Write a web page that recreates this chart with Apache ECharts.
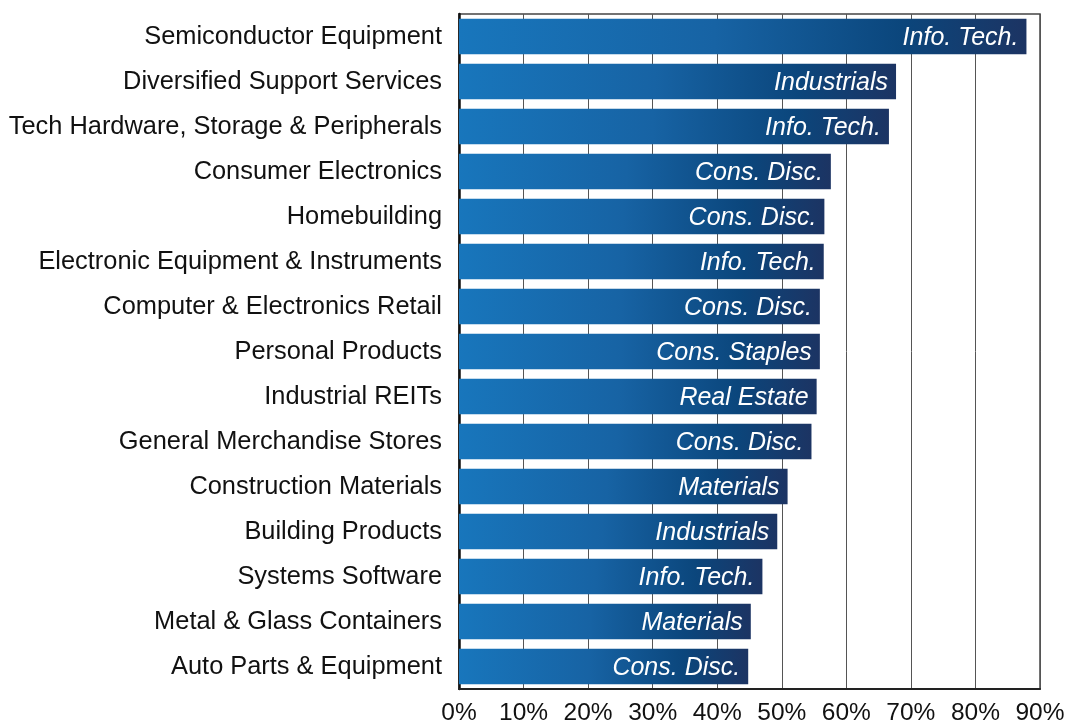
<!DOCTYPE html>
<html>
<head>
<meta charset="utf-8">
<script src="https://cdn.jsdelivr.net/npm/echarts@6/dist/echarts.min.js"></script>
<style>
	html, body { margin: 0; padding: 0; background: #fff; }
	#chart { width: 1068px; height: 721px; }
</style>
</head>
<body>
<div id="chart"></div>
<script type="text/javascript">
// sub-industries, top to bottom
var industries = [
	'Semiconductor Equipment',
	'Diversified Support Services',
	'Tech Hardware, Storage & Peripherals',
	'Consumer Electronics',
	'Homebuilding',
	'Electronic Equipment & Instruments',
	'Computer & Electronics Retail',
	'Personal Products',
	'Industrial REITs',
	'General Merchandise Stores',
	'Construction Materials',
	'Building Products',
	'Systems Software',
	'Metal & Glass Containers',
	'Auto Parts & Equipment'
];
// sector shown inside each bar
var sectors = [
	'Info. Tech.', 'Industrials', 'Info. Tech.', 'Cons. Disc.', 'Cons. Disc.',
	'Info. Tech.', 'Cons. Disc.', 'Cons. Staples', 'Real Estate', 'Cons. Disc.',
	'Materials', 'Industrials', 'Info. Tech.', 'Materials', 'Cons. Disc.'
];
// values in %
var values = [87.9, 67.7, 66.6, 57.6, 56.6, 56.5, 55.9, 55.9, 55.4, 54.6, 50.9, 49.3, 47.0, 45.2, 44.8];
var xTicks = [0, 10, 20, 30, 40, 50, 60, 70, 80, 90];

var font = '"Liberation Sans", Arial, sans-serif';

var barData = [];
for (var i = 0; i < values.length; i++) {
	barData.push({ value: values[i], sector: sectors[i] });
}

var myChart = echarts.init(document.getElementById('chart'));
var options = {
	animation: false,
	grid: {
		left: 459, right: 28, top: 14, bottom: 32,
		outerBoundsMode: 'none',
		show: true, borderColor: '#444', borderWidth: 1.5
	},
	xAxis: {
		type: 'value',
		min: xTicks[0],
		max: xTicks[xTicks.length - 1],
		interval: 10,
		axisLine: { show: true, lineStyle: { color: '#222', width: 2 } },
		axisTick: { show: false },
		splitLine: { show: true, lineStyle: { color: '#555', width: 1 } },
		axisLabel: {
			formatter: '{value}%',
			fontFamily: font, fontSize: 24.5, color: '#111', margin: 12
		}
	},
	yAxis: {
		type: 'category',
		inverse: true,
		data: industries,
		axisLine: { show: true, lineStyle: { color: '#111', width: 2.5 } },
		axisTick: { show: false },
		axisLabel: {
			fontFamily: font, fontSize: 25.4, color: '#111', margin: 17,
			padding: [4, 0, 0, 0]
		}
	},
	series: [{
		type: 'bar',
		data: barData,
		barCategoryGap: '21%',
		itemStyle: {
			color: new echarts.graphic.LinearGradient(0, 0, 1, 0, [
				{ offset: 0, color: '#1876bc' },
				{ offset: 0.45, color: '#1763a4' },
				{ offset: 0.78, color: '#0b467c' },
				{ offset: 1, color: '#1c3463' }
			])
		},
		label: {
			show: true,
			position: 'insideRight',
			distance: 8,
			offset: [0, 2],
			formatter: function (p) { return p.data.sector; },
			fontFamily: font, fontSize: 25, fontStyle: 'italic', color: '#fff'
		}
	}]
};
myChart.setOption(options);
</script>
</body>
</html>
